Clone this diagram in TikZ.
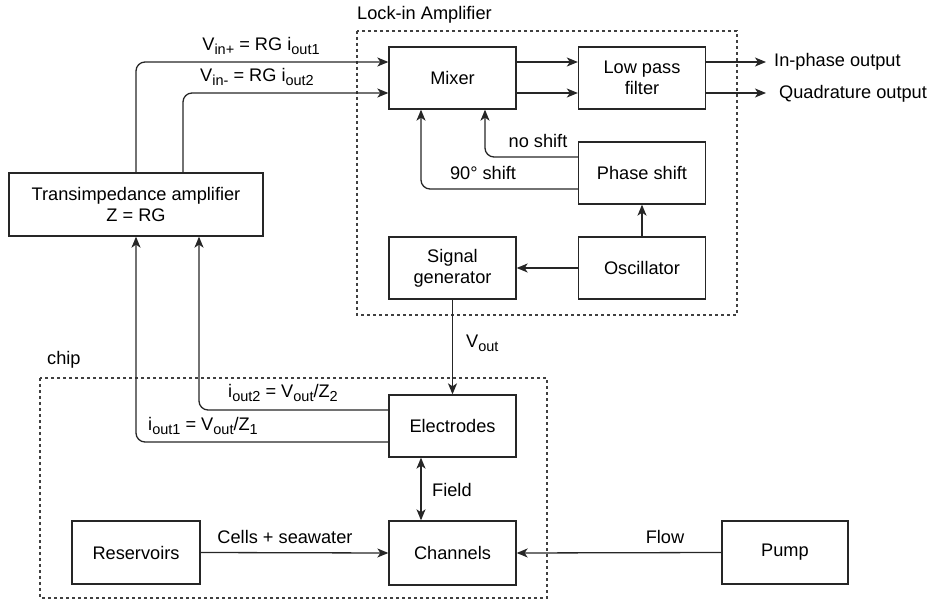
\documentclass[tikz,border=0pt]{standalone}
\usepackage{fontspec}
\setmainfont{Liberation Sans}
\usetikzlibrary{arrows.meta,calc}
\newcommand\mysub[1]{\raisebox{-4pt}{\fontsize{14.5}{15}\selectfont #1}}
\begin{document}
\begin{tikzpicture}[x=1pt,y=-1pt,
  font=\fontsize{18.2}{21}\selectfont,
  box/.style={draw=black!85,line width=1.3pt,minimum width=127pt,minimum height=62pt,align=center,inner sep=2pt},
  arr/.style={line width=1.3pt,draw=black!85,-{Stealth[length=11pt,width=9pt,inset=3pt]},rounded corners=9pt},
  darr/.style={line width=1.3pt,draw=black!85,{Stealth[length=11pt,width=9pt,inset=3pt]}-{Stealth[length=11pt,width=9pt,inset=3pt]}},
  group/.style={draw=black!75,line width=1.2pt,dash pattern=on 3pt off 3pt},
  lbl/.style={inner sep=1pt}]
\useasboundingbox (0,0) rectangle (930,601);
% groups
\draw[group] (357,31) rectangle (737,315);
\node[lbl,anchor=west] (lockin) at (356,15) {Lock-in Amplifier};
\draw[group] (40,378) rectangle (547,598);
\node[lbl,anchor=west] (chip) at (46,360) {chip};
% boxes
\node[box] (mixer) at (452.5,78) {Mixer};
\node[box] (lpf) at (642,78) {Low pass\\filter};
\node[box] (ps) at (642,173) {Phase shift};
\node[box] (sg) at (452.5,268) {Signal\\generator};
\node[box] (osc) at (642,268) {Oscillator};
\node[box,minimum width=254pt,minimum height=63pt] (tia) at (136,204.5) {Transimpedance amplifier\\Z = RG};
\node[box] (el) at (452.5,426) {Electrodes};
\node[box,minimum height=64pt] (ch) at (452.5,553) {Channels};
\node[box,minimum width=128pt,minimum height=63pt] (res) at (136,552.5) {Reservoirs};
\node[box,minimum width=126pt,minimum height=63pt] (pump) at (785,552.5) {Pump};
% TIA to mixer
\draw[arr] (tia.north) |- ([yshift=16pt]mixer.west);
\draw[arr] ([xshift=47pt]tia.north) |- ([yshift=-15pt]mixer.west);
\node[lbl] (vinp) at (261,46) {V\mysub{in+} = RG i\mysub{out1}};
\node[lbl] (vinm) at (257,77) {V\mysub{in-} = RG i\mysub{out2}};
% mixer to lpf
\draw[arr] ([yshift=16pt]mixer.east) -- ([yshift=16pt]lpf.west);
\draw[arr] ([yshift=-15pt]mixer.east) -- ([yshift=-15pt]lpf.west);
% outputs
\coordinate (inph) at (766,62);
\coordinate (quad) at (766,93);
\draw[arr] ([yshift=16pt]lpf.east) -- (inph);
\draw[arr] ([yshift=-15pt]lpf.east) -- (quad);
\node[lbl,anchor=west] (inphl) at (773,62) {In-phase output};
\node[lbl,anchor=west] (quadl) at (778,94) {Quadrature output};
% phase shift to mixer
\draw[arr] ([yshift=16pt]ps.west) -| ([xshift=32.5pt]mixer.south);
\draw[arr] ([yshift=-16pt]ps.west) -| ([xshift=-31.5pt]mixer.south);
\node[lbl] (nos) at (538,141) {no shift};
\node[lbl] (s90) at (483,173) {90° shift};
% oscillator
\draw[arr] (osc.north) -- (ps.south);
\draw[arr] (osc.west) -- (sg.east);
% signal generator to electrodes
\draw[arr] (sg.south) -- (el.north);
\node[lbl,anchor=west] (vout) at (465,343) {V\mysub{out}};
% electrodes to TIA
\draw[arr] ([yshift=16pt]el.west) -| ([xshift=63pt]tia.south);
\draw[arr] ([yshift=-16pt]el.west) -| (tia.south);
\node[lbl] (io2) at (283,393) {i\mysub{out2} = V\mysub{out}/Z\mysub{2}};
\node[lbl] (io1) at (203,426) {i\mysub{out1} = V\mysub{out}/Z\mysub{1}};
% field
\draw[darr] ([xshift=-31.5pt]el.south) -- ([xshift=-31.5pt]ch.north);
\node[lbl,anchor=west] (field) at (431,490) {Field};
% reservoirs and pump
\draw[arr] (res.east) -- (ch.west);
\node[lbl] (cells) at (285,537) {Cells + seawater};
\draw[arr] (pump.west) -- (ch.east);
\node[lbl] (flow) at (665,537) {Flow};
\end{tikzpicture}
\end{document}
